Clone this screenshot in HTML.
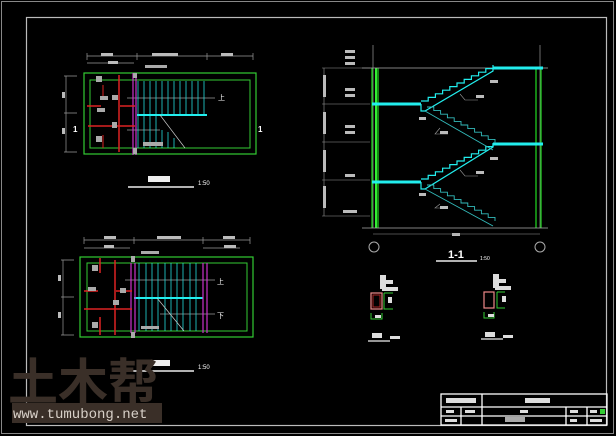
<!DOCTYPE html>
<html><head><meta charset="utf-8"><style>
html,body{margin:0;padding:0;background:#000;width:616px;height:436px;overflow:hidden}
svg{display:block}
text{font-family:"Liberation Sans","Noto Sans CJK SC",sans-serif;fill:#fff}
</style></head><body>
<svg width="616" height="436" viewBox="0 0 616 436" xmlns="http://www.w3.org/2000/svg">
<rect width="616" height="436" fill="#000"/>
<rect x="1.5" y="1.5" width="612" height="432" fill="none" stroke="#888" stroke-width="1"/>
<rect x="26.5" y="17.5" width="580" height="408" fill="none" stroke="#bbb" stroke-width="1.2"/>

<!-- upper plan -->
<g>
<rect x="84" y="73" width="172" height="81" fill="none" stroke="#3c3" stroke-width="1.2"/>
<rect x="90" y="80" width="160" height="68" fill="none" stroke="#3c3" stroke-width="1"/>
<g stroke="#999" stroke-width="0.7" fill="none">
<path d="M87 56H253M87 53V60M137 53V60M207 53V60M253 53V60M87 63H134"/>
<path d="M66 76V152M64 76H77M64 152H77M64 113H77"/>
<path d="M127 98H215M127 130H160"/>
</g>
<g fill="#bbb"><rect x="101" y="53" width="12" height="3"/><rect x="152" y="53" width="26" height="3"/><rect x="221" y="53" width="12" height="3"/><rect x="108" y="61" width="10" height="3"/><rect x="62" y="92" width="3" height="6"/><rect x="62" y="128" width="3" height="6"/></g>
<g stroke="#2dd" stroke-width="0.8"><path d="M138 81V115M144 81V115M150 81V115M156 81V115M162 81V115M168 81V115M174 81V115M180 81V115M186 81V115M192 81V115M198 81V115M204 81V115M138 115V148M144 115V148M150 115V148M156 115V148M162 130V148M168 132V148M174 138V148"/></g>
<path d="M137 115H207" stroke="#2ee" stroke-width="2"/>
<path d="M160 115L185 148" stroke="#ccc" stroke-width="0.7"/>
<path d="M133 73V155M136 73V155" stroke="#c3c" stroke-width="1.2"/>
<path d="M119 75V152M87 106H101M120 106H135M88 126H135" stroke="#d22" stroke-width="1.5"/>
<path d="M103 85V97M103 135V148" stroke="#d22" stroke-width="1"/>
<g fill="#aaa"><rect x="96" y="76" width="6" height="6"/><rect x="100" y="96" width="8" height="4"/><rect x="112" y="95" width="6" height="5"/><rect x="97" y="108" width="8" height="4"/><rect x="112" y="122" width="5" height="6"/><rect x="96" y="136" width="6" height="6"/><rect x="133" y="73" width="4" height="5"/><rect x="133" y="148" width="4" height="6"/><rect x="145" y="65" width="22" height="3"/><rect x="143" y="142" width="20" height="4"/></g>
<text x="218" y="100" font-size="7">上</text>
<text x="73" y="132" font-size="8" font-weight="bold">1</text>
<text x="258" y="132" font-size="8" font-weight="bold">1</text>
<rect x="148" y="176" width="22" height="6" fill="#eee"/>
<path d="M128 187H194" stroke="#eee" stroke-width="1.5"/>
<text x="198" y="185" font-size="6">1:50</text>
</g>

<!-- lower plan -->
<g>
<rect x="80" y="257" width="173" height="80" fill="none" stroke="#3c3" stroke-width="1.2"/>
<rect x="87" y="263" width="160" height="68" fill="none" stroke="#3c3" stroke-width="1"/>
<g stroke="#999" stroke-width="0.7" fill="none">
<path d="M84 240H250M84 237V244M134 237V244M203 237V244M250 237V244M84 248H130M203 248H240"/>
<path d="M63 260V335M61 260H74M61 335H74M61 297H74"/>
<path d="M125 280H215M160 314H215"/>
</g>
<g fill="#bbb"><rect x="104" y="236" width="12" height="3"/><rect x="157" y="236" width="24" height="3"/><rect x="223" y="236" width="12" height="3"/><rect x="104" y="245" width="10" height="3"/><rect x="224" y="245" width="12" height="3"/><rect x="58" y="275" width="3" height="6"/><rect x="58" y="312" width="3" height="6"/></g>
<g stroke="#2dd" stroke-width="0.8"><path d="M139 263V331M146 263V331M152 263V331M158 263V331M165 263V331M171 263V331M177 263V331M183 263V331M190 263V331M196 263V331"/></g>
<path d="M134 298H203" stroke="#2ee" stroke-width="2"/>
<path d="M157 298L184 331" stroke="#ccc" stroke-width="0.7"/>
<path d="M131 263V333M135 263V333M203 263V333M207 263V333" stroke="#c3c" stroke-width="1.2"/>
<path d="M115 260V335M84 291H98M116 291H132M84 309H132M100 258V273M100 317V335" stroke="#d22" stroke-width="1.5"/>
<g fill="#aaa"><rect x="92" y="265" width="6" height="6"/><rect x="88" y="287" width="8" height="4"/><rect x="120" y="288" width="6" height="5"/><rect x="113" y="300" width="6" height="5"/><rect x="92" y="322" width="6" height="6"/><rect x="131" y="256" width="4" height="6"/><rect x="131" y="332" width="4" height="6"/><rect x="141" y="251" width="18" height="3"/><rect x="141" y="326" width="18" height="3"/></g>
<text x="217" y="284" font-size="7">上</text>
<text x="217" y="318" font-size="7">下</text>
<rect x="148" y="360" width="22" height="6" fill="#eee"/>
<path d="M128 371H194" stroke="#eee" stroke-width="1.5"/>
<text x="198" y="369" font-size="6">1:50</text>
</g>

<!-- section -->
<g>
<path d="M373 45V228M540 45V228" stroke="#999" stroke-width="0.7"/>
<path d="M372 68V228M378 68V228M536 68V228M541 68V228" stroke="#2d2" stroke-width="1.2"/>
<path d="M376 68V228" stroke="#3e3" stroke-width="2"/>
<path d="M362 68H548M362 228H548" stroke="#aaa" stroke-width="0.7"/>
<path d="M372 104H421M372 182H421M493 144H543M493 68H543" stroke="#2ee" stroke-width="3"/>
<g stroke="#2ee" stroke-width="1.2" fill="none">
<path d="M421 104V111H425L493 71V68"/>
<path d="M421 182V189H425L493 147V144"/>
<path d="M421 101h7.2v-3.6h7.2v-3.6h7.2v-3.6h7.2v-3.6h7.2v-3.6h7.2v-3.6h7.2v-3.6h7.2v-3.6h7.2v-3.6h7.2v-3.6"/>
<path d="M421 179h7.2v-3.6h7.2v-3.6h7.2v-3.6h7.2v-3.6h7.2v-3.6h7.2v-3.6h7.2v-3.6h7.2v-3.6h7.2v-3.6h7.2v-3.6"/>
</g>
<g stroke="#3bb" stroke-width="0.9" fill="none">
<path d="M425 111L493 150M427 107h6.8v3.6h6.8v3.6h6.8v3.6h6.8v3.6h6.8v3.6h6.8v3.6h6.8v3.6h6.8v3.6h6.8v3.6h6.8v3.6"/>
<path d="M425 189L493 226M427 185h6.8v3.6h6.8v3.6h6.8v3.6h6.8v3.6h6.8v3.6h6.8v3.6h6.8v3.6h6.8v3.6h6.8v3.6h6.8v3.6"/>
</g>
<g stroke="#999" stroke-width="0.6" fill="none"><path d="M322 68H370M322 104H370M322 142H370M322 180H370M322 216H370M324 68V216"/><path d="M460 94L465 100H478M440 128L435 134H448M460 170L465 176H478M440 204L435 208H448"/></g>
<g fill="#bbb"><rect x="345" y="50" width="10" height="3"/><rect x="345" y="56" width="10" height="3"/><rect x="345" y="62" width="10" height="3"/><rect x="345" y="88" width="10" height="3"/><rect x="345" y="94" width="10" height="3"/><rect x="345" y="125" width="10" height="3"/><rect x="345" y="131" width="10" height="3"/><rect x="345" y="174" width="10" height="3"/><rect x="343" y="210" width="14" height="3"/><rect x="323" y="75" width="3" height="22"/><rect x="323" y="112" width="3" height="22"/><rect x="323" y="150" width="3" height="22"/><rect x="323" y="186" width="3" height="22"/><rect x="490" y="80" width="8" height="3"/><rect x="476" y="95" width="8" height="3"/><rect x="419" y="117" width="7" height="3"/><rect x="440" y="131" width="8" height="3"/><rect x="490" y="157" width="8" height="3"/><rect x="476" y="171" width="8" height="3"/><rect x="419" y="193" width="7" height="3"/><rect x="440" y="206" width="8" height="3"/><rect x="452" y="233" width="8" height="3"/></g>
<path d="M373 234H540" stroke="#999" stroke-width="0.6"/>
<circle cx="374" cy="247" r="5" fill="none" stroke="#aaa"/>
<circle cx="540" cy="247" r="5" fill="none" stroke="#aaa"/>
<text x="448" y="258" font-size="11" font-weight="bold">1-1</text>
<path d="M436 261H477" stroke="#eee" stroke-width="1.5"/>
<text x="480" y="260" font-size="5">1:50</text>
</g>

<!-- details -->
<g>
<rect x="371" y="293" width="11" height="16" fill="none" stroke="#e88" stroke-width="1.2"/>
<rect x="373" y="295" width="7" height="12" fill="none" stroke="#a22" stroke-width="1"/>
<rect x="484" y="292" width="10" height="16" fill="none" stroke="#e88" stroke-width="1.2"/>
<path d="M384 293V309H393M384 293H393M371 313V319H382V313M497 292V308H505M497 292H505M484 312V318H494V312" stroke="#3c3" stroke-width="1" fill="none"/>
<g fill="#ddd"><rect x="380" y="275" width="6" height="14"/><rect x="380" y="280" width="13" height="4"/><rect x="382" y="287" width="16" height="4"/><rect x="493" y="274" width="6" height="14"/><rect x="493" y="279" width="13" height="4"/><rect x="495" y="286" width="16" height="4"/><rect x="388" y="297" width="4" height="6"/><rect x="502" y="296" width="4" height="6"/><rect x="375" y="315" width="6" height="3"/><rect x="488" y="314" width="6" height="3"/><rect x="372" y="333" width="10" height="5"/><rect x="390" y="336" width="10" height="3"/><rect x="485" y="332" width="10" height="5"/><rect x="503" y="335" width="10" height="3"/></g>
<path d="M368 341H390M481 339H503" stroke="#eee" stroke-width="1.2"/>
</g>

<!-- watermark -->
<text x="8" y="400" font-size="50" font-weight="bold" style="fill:#3a2f28;font-family:'Noto Sans CJK SC',sans-serif">土木帮</text>
<rect x="12" y="403" width="150" height="20" fill="#3a2f28"/>
<text x="13" y="418" font-size="14" style="fill:#d8d0c8;font-family:'Liberation Mono',monospace">www.tumubong.net</text>

<!-- title block -->
<g stroke="#fff" stroke-width="1.3" fill="none">
<rect x="441" y="394" width="166" height="31"/>
<path d="M441 407H607M441 416H607M482 394V425M461 407V425M566 407V425M587 407V425"/>
</g>
<g fill="#ddd"><rect x="446" y="398" width="30" height="5"/><rect x="525" y="398" width="25" height="5"/><rect x="446" y="410" width="8" height="3"/><rect x="465" y="410" width="10" height="3"/><rect x="520" y="410" width="8" height="3"/><rect x="570" y="410" width="8" height="3"/><rect x="590" y="410" width="7" height="3"/><rect x="445" y="419" width="12" height="3"/><rect x="505" y="417" width="20" height="5" fill="#aaa"/><rect x="570" y="419" width="7" height="3"/><rect x="590" y="419" width="12" height="3"/></g>
<rect x="600" y="409" width="5" height="5" fill="#3c3"/>
</svg>
</body></html>
